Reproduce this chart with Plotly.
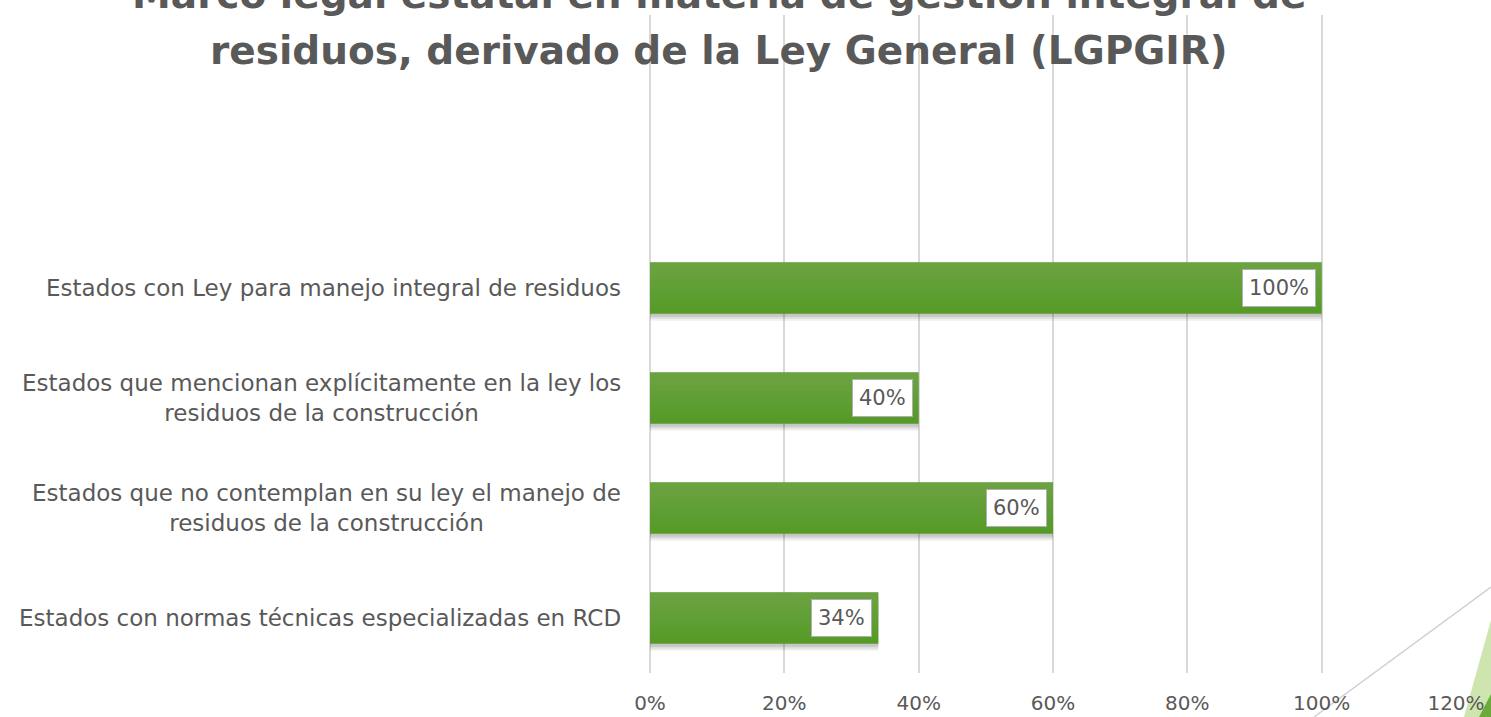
import plotly.graph_objects as go

# ---- data ----
categories = [
    "Estados con Ley para manejo integral de residuos",
    "Estados que mencionan explícitamente en la ley los<br>residuos de la construcción",
    "Estados que no contemplan en su ley el manejo de<br>residuos de la construcción",
    "Estados con normas técnicas especializadas en RCD",
]
values = [1.00, 0.40, 0.60, 0.34]
value_labels = ["100%", "40%", "60%", "34%"]
x_ticks = [0, 0.2, 0.4, 0.6, 0.8, 1.0, 1.2]
title_lines = ["Marco legal estatal en materia de gestión integral de",
               "residuos, derivado de la Ley General (LGPGIR)"]

W, H = 1491, 717
ML, MR, MT, MB = 650, 35, 15, 44
PW, PH = W - ML - MR, H - MT - MB
BAND = 110.0
BW = 0.47
NGRAD = 8


def px(x):
    return (x - ML) / PW


def py(y):
    return (H - MB - y) / PH


FONT = "DejaVu Sans"
GREY = "#595959"

fig = go.Figure()
# soft shadow under bars
for dy, a in [(7, 0.06), (5, 0.08), (3, 0.10)]:
    fig.add_trace(go.Bar(
        x=values, y=categories, orientation="h",
        marker=dict(color=f"rgba(0,0,0,{a})", line=dict(width=0)),
        width=BW, offset=-BW / 2 - dy / BAND, hoverinfo="skip",
    ))
fig.add_trace(go.Bar(
    x=values, y=categories, orientation="h",
    marker=dict(color="#539a24", line=dict(width=0)),
    width=BW, offset=-BW / 2, hoverinfo="skip",
))
# stacked translucent layers to suggest a vertical gradient (lighter on top)
for i in range(NGRAD):
    w = (i + 1) * BW / NGRAD
    fig.add_trace(go.Bar(
        x=values, y=categories, orientation="h",
        marker=dict(color="rgba(255,255,255,0.018)", line=dict(width=0)),
        width=w, offset=BW / 2 - w, hoverinfo="skip",
    ))

# data labels in white boxes
for c, v, t in zip(categories, values, value_labels):
    fig.add_annotation(x=v, y=c, xref="x", yref="y", text=t, showarrow=False,
                       xanchor="right", yanchor="middle", xshift=-6,
                       font=dict(family=FONT, size=21, color=GREY),
                       bgcolor="white", bordercolor="#b0b0b0", borderwidth=1,
                       borderpad=6)

# category labels (centered multi-line)
for c in categories:
    fig.add_annotation(x=0, y=c, xref="paper", yref="y", text=c, showarrow=False,
                       xanchor="right", yanchor="middle", xshift=-27, align="center",
                       font=dict(family=FONT, size=23, color=GREY))

# title, two lines (first line partially off-canvas as in the original)
for line, bottom in zip(title_lines, [19, 75]):
    fig.add_annotation(x=px(719), y=py(bottom), xref="paper", yref="paper", text=line,
                       showarrow=False, xanchor="center", yanchor="bottom",
                       font=dict(family=FONT, size=39, color=GREY, weight="bold"))

# decorative corner elements
fig.add_shape(type="line", xref="paper", yref="paper",
              x0=px(1314), y0=py(717), x1=px(1491), y1=py(587),
              line=dict(color="#d0d0d0", width=1.5), layer="below")
fig.add_shape(type="path", xref="paper", yref="paper",
              path=f"M {px(1464)} {py(717)} L {px(1491)} {py(620)} L {px(1491)} {py(717)} Z",
              fillcolor="#cfe5b0", line=dict(width=0), layer="below")
fig.add_shape(type="path", xref="paper", yref="paper",
              path=f"M {px(1479)} {py(717)} L {px(1491)} {py(694)} L {px(1491)} {py(717)} Z",
              fillcolor="#6aab3c", line=dict(width=0), layer="below")

fig.update_layout(
    width=W, height=H,
    margin=dict(l=ML, r=MR, t=MT, b=MB, pad=0, autoexpand=False),
    paper_bgcolor="white", plot_bgcolor="white",
    showlegend=False, barmode="overlay",
    xaxis=dict(range=[0, 1.2], tickvals=x_ticks, tickformat=".0%",
               showgrid=True, gridcolor="#d9d9d9", gridwidth=1.5,
               zeroline=True, zerolinecolor="#d9d9d9", zerolinewidth=1.5,
               showline=False, ticks="outside", ticklen=12, tickcolor="rgba(0,0,0,0)",
               tickfont=dict(family=FONT, size=20, color=GREY), automargin=False),
    yaxis=dict(categoryorder="array", categoryarray=list(reversed(categories)),
               range=[-0.5, -0.5 + PH / BAND], showticklabels=False,
               showgrid=False, zeroline=False, showline=False, automargin=False),
)

fig.write_html("out.html", config={"displayModeBar": False},
               post_script="document.body.style.margin='0';document.body.style.overflow='hidden';")
